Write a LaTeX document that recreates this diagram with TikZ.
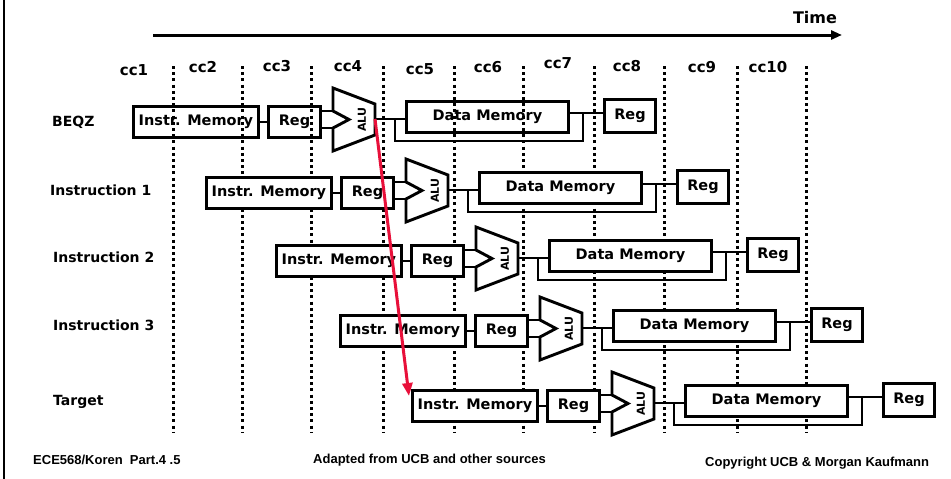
\documentclass[tikz,border=0pt]{standalone}
\usepackage{fontspec}
\setmainfont{DejaVu Sans}
\newfontfamily\footfont{Liberation Sans}
\usetikzlibrary{arrows.meta}
\definecolor{branchred}{RGB}{232,16,58}

\tikzset{
  unit/.style={draw, fill=white, line width=2.9pt, inner sep=0pt, anchor=north west,
    font=\bfseries\fontsize{14.5}{16}\selectfont},
  wire/.style={line width=2.5pt},
  alushape/.style={draw, fill=white, line width=2.9pt, line join=miter},
  alutext/.style={font=\bfseries\fontsize{11}{12}\selectfont, rotate=90, inner sep=0pt},
  clockline/.style={line width=3pt, dash pattern=on 3pt off 3.2pt},
  cclabel/.style={font=\bfseries\fontsize{15}{17}\selectfont},
  rowlabel/.style={font=\bfseries\fontsize{14}{16}\selectfont, anchor=west, inner sep=0pt},
  foot/.style={font=\footfont\bfseries\fontsize{13}{15}\selectfont, anchor=west, inner sep=0pt},
  timeline/.style={line width=3pt, -{Triangle[length=11pt,width=9pt]}},
  branch/.style={draw=branchred, line width=3pt, -{Triangle[length=13pt,width=10pt]}}
}

% One instruction flowing through the five pipeline stages.
% #1 = id, #2 = left x of the instruction memory, #3 = its top y
\newcommand\pipestage[3]{%
\begin{scope}[shift={(#2,#3)}]
  \node[unit, minimum width=125pt, minimum height=31pt] (im#1) at (0,0) {Instr. Memory};
  \node[unit, minimum width=52pt, minimum height=31pt] (rf#1) at (135,0) {Reg};
  \draw[alushape] (201,-17) -- (201,6) coordinate (alua#1) -- (217,14.5)
     -- (201,23) coordinate (alub#1) -- (201,46) -- (243,30) -- (243,-1) -- cycle;
  \coordinate (aluo#1) at (243,14);
  \node[alutext] (alul#1) at (230,14.5) {ALU};
  \node[unit, minimum width=162pt, minimum height=31pt] (dm#1) at (273,-5) {Data Memory};
  \node[unit, minimum width=51pt, minimum height=33pt] (wb#1) at (471,-7) {Reg};
  \coordinate (fork#1) at (263,14);
  \coordinate (join#1) at (451,8);
  \draw[wire] (im#1.east) -- (rf#1.west);
  \draw[wire] (rf#1.east |- alua#1) -- (alua#1);
  \draw[wire] (rf#1.east |- alub#1) -- (alub#1);
  \draw[wire] (aluo#1) -- (aluo#1 -| dm#1.west);
  \draw[wire] (fork#1) -- ++(0,22) -| (join#1);
  \draw[wire] (dm#1.east |- join#1) -- (wb#1.west |- join#1);
\end{scope}}

\begin{document}
\begin{tikzpicture}[x=1pt,y=-1pt]
\useasboundingbox (0,0) rectangle (951,479);

% slide edge
\coordinate (edgetop) at (4,0);
\coordinate (edgebot) at (4,479);
\draw[line width=2.5pt] (edgetop) -- (edgebot);

% time axis
\node[font=\bfseries\fontsize{16}{18}\selectfont] (time) at (815,18) {Time};
\coordinate (t0) at (153,35);
\coordinate (t1) at (842,35);
\draw[timeline] (t0) -- (t1);

% clock cycle labels
\foreach \n/\x/\y in {1/134/70, 2/203/67, 3/277/66, 4/348/66, 5/420/69,
                      6/488/67, 7/558/63, 8/627/66, 9/702/67, 10/768/67}
  \node[cclabel] (cc\n) at (\x,\y) {cc\n};

% instruction names
\node[rowlabel] (lab1) at (52,122) {BEQZ};
\node[rowlabel] (lab2) at (50,190) {Instruction 1};
\node[rowlabel] (lab3) at (53,257) {Instruction 2};
\node[rowlabel] (lab4) at (53,325) {Instruction 3};
\node[rowlabel] (lab5) at (53,402) {Target};

% branch instruction
\pipestage{1}{132}{105}

% clock boundaries
\foreach \i/\x in {1/173, 2/242, 3/311, 4/383, 5/454, 6/523, 7/594, 8/664, 9/737, 10/806} {
  \coordinate (ctop\i) at (\x,66);
  \coordinate (cbot\i) at (\x,432);
  \draw[clockline] (ctop\i) -- (cbot\i);
}

% following instructions
\pipestage{2}{205}{176}
\pipestage{3}{275}{244}
\pipestage{4}{339}{314}
\pipestage{5}{411}{389}

% branch outcome redirects fetch to the target
\draw[branch] (aluo1) -- ([shift={(-2,7)}]im5.north west);

% footer
\node[foot] (f1) at (33,460) {ECE568/Koren\ \ Part.4 .5};
\node[foot] (f2) at (313,460) {Adapted from UCB and other sources};
\node[foot] (f3) at (705,463) {Copyright UCB \& Morgan Kaufmann};
\end{tikzpicture}
\end{document}
